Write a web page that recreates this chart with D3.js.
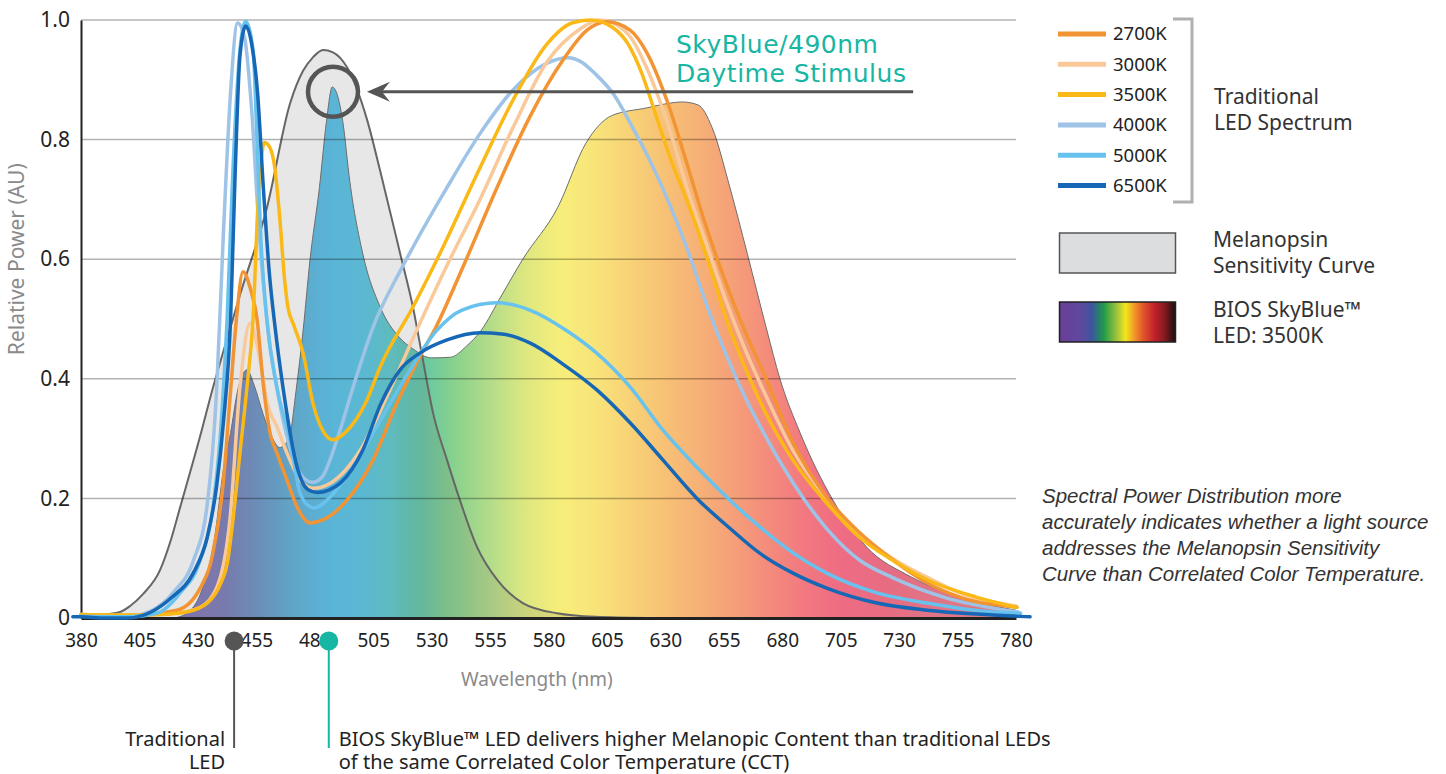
<!DOCTYPE html>
<html>
<head>
<meta charset="utf-8">
<script src="https://cdn.jsdelivr.net/npm/d3@7"></script>
<style>
html, body { margin: 0; padding: 0; background: #fff; }
svg { display: block; }
</style>
</head>
<body>
<svg id="chart" width="1446" height="774"></svg>
<script>
// ---- data ----
const xTicks = [380, 405, 430, 455, 480, 505, 530, 555, 580, 605, 630, 655, 680, 705, 730, 755, 780];
const yTicks = [0, 0.2, 0.4, 0.6, 0.8, 1.0];
const yTickLabels = ["0", "0.2", "0.4", "0.6", "0.8", "1.0"];

const seriesNames = ["2700K", "3000K", "3500K", "4000K", "5000K", "6500K"];
const seriesColors = ["#f29433", "#f9c99a", "#fbb917", "#9ec3e6", "#68c2ee", "#1667b5"];

// [wavelength nm, relative power]
const spd2700 = [[380,0.006],[400,0.004],[421,0.013],[431,0.05],[436.5,0.11],[440.7,0.22],[444,0.38],[446.5,0.5],[449.3,0.579],[452.5,0.55],[455.3,0.5],[458,0.39],[460.9,0.309],[463.8,0.276],[468.1,0.231],[472.4,0.186],[478,0.159],[483.5,0.164],[493.8,0.197],[504.9,0.264],[515.2,0.36],[524,0.43],[532.3,0.49],[543.4,0.587],[558,0.72],[572,0.838],[586.2,0.933],[596.5,0.983],[605,0.997],[614.9,0.983],[622.1,0.945],[630.7,0.865],[639.2,0.76],[647,0.66],[655,0.57],[664,0.48],[672,0.41],[684.6,0.293],[699,0.202],[713.3,0.142],[727.4,0.097],[741.9,0.059],[756,0.035],[780.4,0.018]];
const spd3000 = [[380,0.006],[400,0.004],[420,0.008],[431,0.018],[438.2,0.052],[443.7,0.164],[448,0.386],[452.3,0.493],[456.6,0.431],[459.6,0.36],[463.8,0.32],[468.1,0.276],[473.7,0.231],[479.3,0.217],[486.5,0.225],[499.4,0.28],[512,0.38],[523.7,0.482],[536.6,0.59],[550.7,0.7],[564.8,0.82],[579.4,0.93],[593.5,0.985],[602,1.0],[610,0.99],[615,0.972],[622,0.92],[630.7,0.83],[640,0.71],[648,0.62],[656,0.53],[664,0.45],[672,0.38],[684.6,0.28],[699,0.2],[713,0.14],[727,0.1],[742,0.068],[756,0.042],[780,0.02]];
const spd3500 = [[380,0.006],[400,0.005],[415,0.006],[425,0.01],[434,0.025],[440,0.06],[442.5,0.09],[445,0.164],[448,0.276],[451,0.386],[453.6,0.5],[455.7,0.69],[458.5,0.795],[461,0.785],[463,0.75],[465.1,0.666],[467,0.57],[468.5,0.52],[471,0.49],[475,0.443],[479.3,0.358],[483.5,0.313],[487.8,0.298],[493,0.31],[502.4,0.365],[508,0.42],[522,0.52],[533.6,0.61],[550.7,0.753],[564.8,0.866],[579.4,0.96],[590,0.995],[598,1.0],[607.6,0.987],[614,0.96],[620,0.91],[626,0.84],[632,0.77],[640,0.69],[648,0.6],[656,0.5],[664,0.42],[672,0.35],[684.6,0.264],[699,0.192],[713,0.135],[727,0.097],[742,0.064],[763,0.035],[780,0.018]];
const spd4000 = [[380,0.004],[400,0.003],[410,0.012],[420,0.045],[428,0.095],[434,0.19],[438,0.38],[441,0.65],[444,0.88],[447,0.995],[450,0.97],[453,0.85],[456,0.66],[460,0.48],[464,0.38],[469,0.29],[474,0.24],[479,0.227],[483,0.235],[489.5,0.298],[496.4,0.386],[505,0.487],[516.5,0.58],[522,0.62],[536.6,0.72],[550.7,0.81],[564.8,0.883],[579.4,0.928],[588.3,0.937],[594,0.93],[600,0.91],[608,0.875],[616,0.82],[624,0.76],[632,0.69],[640,0.61],[648,0.52],[656,0.44],[664,0.37],[672,0.31],[680,0.255],[690,0.195],[700,0.145],[713,0.097],[727,0.068],[749,0.035],[781,0.01]];
const spd5000 = [[380,0.003],[400,0.002],[412.5,0.008],[422.4,0.042],[431,0.097],[436.5,0.186],[439.5,0.3],[442.5,0.5],[445,0.75],[448,0.95],[450.5,0.998],[453.6,0.95],[455.3,0.8],[457,0.63],[459.5,0.5],[463.8,0.386],[469.4,0.298],[473.7,0.209],[478,0.186],[480,0.184],[486.5,0.202],[496.4,0.253],[508,0.33],[520,0.41],[532,0.48],[543,0.515],[558,0.527],[572,0.515],[588,0.48],[600,0.445],[615,0.386],[629,0.314],[643.5,0.252],[657.6,0.197],[670.5,0.152],[684.6,0.109],[699,0.075],[720.5,0.042],[742,0.025],[770,0.01],[782,0.008]];
const spd6500 = [[376.5,0.002],[380,0.002],[390,0.0],[400,0.0],[410,0.01],[419,0.035],[428,0.075],[434,0.135],[438,0.22],[441,0.33],[444,0.5],[446,0.75],[448,0.94],[450.5,0.99],[453,0.96],[455.5,0.88],[458,0.72],[460.5,0.58],[463,0.487],[466.4,0.386],[472.4,0.253],[477,0.215],[481,0.21],[486,0.214],[491,0.226],[500.6,0.281],[508,0.356],[516.5,0.415],[525,0.443],[536.6,0.465],[550.7,0.477],[560,0.475],[572,0.46],[586,0.425],[600.8,0.381],[615,0.326],[629,0.264],[643.5,0.2],[657.6,0.15],[670.5,0.108],[684.6,0.075],[699,0.05],[720.5,0.025],[742,0.013],[770,0.005],[786,0.002]];

const melanopsin = [[380,0.004],[388,0.005],[396.7,0.01],[401,0.02],[406.5,0.04],[413.8,0.08],[418,0.125],[422.4,0.185],[430.9,0.303],[436.5,0.386],[440.7,0.443],[448,0.54],[459.6,0.687],[469.4,0.86],[475,0.915],[479.3,0.938],[483.5,0.95],[487.8,0.946],[493.8,0.921],[502.4,0.833],[507.9,0.749],[516.5,0.61],[522,0.52],[526.3,0.431],[530.6,0.343],[536.6,0.264],[542.1,0.197],[549.4,0.119],[558,0.064],[569,0.025],[583.6,0.008],[600,0.002],[622,0]];

const skyBlue3500 = [[420,0],[426,0.01],[432,0.05],[437,0.13],[441,0.25],[444,0.31],[447,0.38],[449.5,0.41],[451,0.415],[454,0.39],[458,0.34],[462,0.3],[465,0.285],[469,0.3],[472,0.38],[475,0.48],[478,0.6],[482,0.72],[485,0.83],[487.5,0.888],[490,0.87],[492,0.83],[495,0.73],[500.5,0.61],[508,0.52],[516,0.47],[522,0.45],[530,0.435],[538,0.436],[545,0.455],[551,0.48],[560,0.54],[569,0.6],[584,0.687],[596,0.794],[607,0.84],[622,0.853],[632,0.861],[637,0.863],[644,0.858],[650,0.82],[657.6,0.72],[665,0.61],[673.5,0.48],[679,0.4],[687.6,0.31],[701.7,0.197],[716,0.119],[735,0.069],[756,0.035],[780,0.013]];

// colour of the SkyBlue fill along the wavelength axis
const spectrumStops = [[380,"#8a74bb"],[425,"#8577bb"],[440,"#7d7cb9"],[455,"#6c94c6"],[470,"#5fb0d9"],[485,"#57c2ec"],[500,"#59c8e8"],[512,"#5ccbd0"],[525,"#62c7a6"],[538,"#84d08e"],[555,"#b3dc8a"],[570,"#dde780"],[585,"#f7ee7a"],[600,"#f8e479"],[615,"#f8d277"],[630,"#f7c175"],[645,"#f6b077"],[660,"#f59e79"],[675,"#f48a7c"],[690,"#f27880"],[705,"#ef6c83"],[725,"#e66c82"],[750,"#df7686"],[780,"#da7d89"]];
const swatchStops = [[0,"#6b3e98"],[0.2,"#5b4a9e"],[0.28,"#3d55a0"],[0.38,"#1d9a48"],[0.5,"#a5c63b"],[0.57,"#f3e61b"],[0.65,"#f0932a"],[0.72,"#e2562a"],[0.82,"#c1202b"],[0.9,"#8b1a1f"],[1,"#1b0f0f"]];

const noteLines = ["Spectral Power Distribution more", "accurately indicates whether a light source", "addresses the Melanopsin Sensitivity", "Curve than Correlated Color Temperature."];

// ---- setup ----
const margin = {top: 20, left: 81};
const innerW = 935, innerH = 598;
const svg = d3.select("#chart");
const defs = svg.append("defs");

const x = d3.scaleLinear().domain([380, 780]).range([margin.left, margin.left + innerW]);
const y = d3.scaleLinear().domain([0, 1]).range([margin.top + innerH, margin.top]);

const line = d3.line().x(d => x(d[0])).y(d => y(d[1])).curve(d3.curveMonotoneX);
const area = d3.area().x(d => x(d[0])).y0(y(0)).y1(d => y(d[1])).curve(d3.curveMonotoneX);

// spectrum gradient in user space so it lines up with wavelength
const grad = defs.append("linearGradient").attr("id", "spectrum")
    .attr("gradientUnits", "userSpaceOnUse")
    .attr("x1", x(380)).attr("x2", x(780)).attr("y1", 0).attr("y2", 0);
grad.selectAll("stop").data(spectrumStops).join("stop")
    .attr("offset", d => (d[0] - 380) / 400)
    .attr("stop-color", d => d[1]);

const swGrad = defs.append("linearGradient").attr("id", "swatch");
swGrad.selectAll("stop").data(swatchStops).join("stop")
    .attr("offset", d => d[0]).attr("stop-color", d => d[1]);

// ---- fills ----
svg.append("path").datum(skyBlue3500).attr("d", area).attr("fill", "url(#spectrum)");
svg.append("path").datum(skyBlue3500).attr("d", line)
    .attr("fill", "none").attr("stroke", "#6e6e6e").attr("stroke-width", 1);

svg.append("path").datum(melanopsin).attr("d", area).attr("fill", "rgba(105,105,105,0.16)");
svg.append("path").datum(melanopsin).attr("d", line)
    .attr("fill", "none").attr("stroke", "#666").attr("stroke-width", 2);

// ---- grid ----
svg.append("g").selectAll("line").data(yTicks.filter(d => d > 0)).join("line")
    .attr("x1", x(380)).attr("x2", x(780))
    .attr("y1", d => y(d)).attr("y2", d => y(d))
    .attr("stroke", "#000").attr("stroke-opacity", 0.3).attr("stroke-width", 1.5);

// ---- axes ----
const xAxis = svg.append("g").attr("transform", `translate(0,${y(0)})`)
    .call(d3.axisBottom(x).tickValues(xTicks).tickFormat(d3.format("d")).tickSize(0).tickPadding(16).tickSizeOuter(0));
xAxis.select(".domain").attr("stroke", "#222").attr("stroke-width", 3);
xAxis.selectAll("text").attr("font-family", "Noto Sans").attr("font-size", 19).attr("fill", "#222");

const yAxis = svg.append("g").attr("transform", `translate(${x(380)},0)`)
    .call(d3.axisLeft(y).tickValues(yTicks).tickFormat((d, i) => yTickLabels[i]).tickSize(0).tickPadding(11).tickSizeOuter(0));
yAxis.select(".domain").attr("stroke", "#222").attr("stroke-width", 2);
yAxis.selectAll("text").attr("font-family", "Noto Sans").attr("font-size", 21).attr("fill", "#222");

svg.append("text").attr("transform", `translate(24,${y(0.6)}) rotate(-90)`)
    .attr("text-anchor", "middle").attr("font-family", "Noto Sans").attr("font-size", 21)
    .attr("fill", "#8a8a8a").text("Relative Power (AU)");
svg.append("text").attr("x", x(575)).attr("y", 686)
    .attr("text-anchor", "middle").attr("font-family", "Noto Sans").attr("font-size", 19)
    .attr("fill", "#8a8a8a").text("Wavelength (nm)");

// ---- LED spectra ----
const seriesData = {"2700K": spd2700, "3000K": spd3000, "3500K": spd3500, "4000K": spd4000, "5000K": spd5000, "6500K": spd6500};
const drawOrder = ["4000K", "3000K", "2700K", "3500K", "5000K", "6500K"];
svg.append("g").selectAll("path").data(drawOrder).join("path")
    .attr("d", k => line(seriesData[k]))
    .attr("fill", "none")
    .attr("stroke", k => seriesColors[seriesNames.indexOf(k)])
    .attr("stroke-width", 3.5)
    .attr("stroke-linejoin", "round").attr("stroke-linecap", "round");

// ---- 490nm callout ----
const peak = [487.8, 0.88];
const cx0 = x(peak[0]), cy0 = y(peak[1]);
svg.append("circle").attr("cx", cx0).attr("cy", cy0).attr("r", 25)
    .attr("fill", "none").attr("stroke", "#555").attr("stroke-width", 4.5);
const tip = cx0 + 34;
svg.append("line")
    .attr("x1", x(736)).attr("x2", tip + 12)
    .attr("y1", cy0).attr("y2", cy0)
    .attr("stroke", "#555").attr("stroke-width", 3);
svg.append("path")
    .attr("d", `M${tip},${cy0} L${tip + 23},${cy0 - 10} L${tip + 15},${cy0} L${tip + 23},${cy0 + 10} Z`)
    .attr("fill", "#555");
const callout = svg.append("text").attr("font-family", "DejaVu Sans").attr("font-size", 25)
    .attr("fill", "#17b6a3").attr("letter-spacing", 0.5);
callout.append("tspan").attr("x", 676).attr("y", 53).text("SkyBlue/490nm");
callout.append("tspan").attr("x", 676).attr("y", 82).text("Daytime Stimulus");

// ---- legend ----
const leg = svg.append("g").attr("transform", "translate(1058,0)");
const legItems = leg.selectAll("g").data(seriesNames).join("g")
    .attr("transform", (d, i) => `translate(0,${34 + i * 30.3})`);
legItems.append("line").attr("x1", 0).attr("x2", 48).attr("y1", 0).attr("y2", 0)
    .attr("stroke", (d, i) => seriesColors[i]).attr("stroke-width", 5);
legItems.append("text").attr("x", 55).attr("y", 0).attr("dy", "0.35em")
    .attr("font-family", "Noto Sans").attr("font-size", 18.5).attr("fill", "#222").text(d => d);

leg.append("path").attr("d", "M115,19 H134 V202 H115")
    .attr("fill", "none").attr("stroke", "#b0b0b0").attr("stroke-width", 3);

function legendText(lines, x0, y0) {
    lines.forEach((s, i) => svg.append("text").attr("x", x0).attr("y", y0 + i * 26)
        .attr("font-family", "Noto Sans").attr("font-size", 21).attr("fill", "#333").text(s));
}
legendText(["Traditional", "LED Spectrum"], 1214, 104);

leg.append("rect").attr("x", 1.5).attr("y", 233).attr("width", 116).attr("height", 40)
    .attr("fill", "#dcdddf").attr("stroke", "#555").attr("stroke-width", 1.5);
legendText(["Melanopsin", "Sensitivity Curve"], 1213, 247);

leg.append("rect").attr("x", 1.5).attr("y", 302).attr("width", 116).attr("height", 40)
    .attr("fill", "url(#swatch)").attr("stroke", "#222").attr("stroke-width", 1.5);
legendText(["BIOS SkyBlue\u2122", "LED: 3500K"], 1213, 317);

// ---- note ----
noteLines.forEach((s, i) => svg.append("text").attr("x", 1042).attr("y", 503 + i * 26)
    .attr("font-family", "Liberation Sans").attr("font-style", "italic")
    .attr("font-size", 20.5).attr("fill", "#333").text(s));

// ---- bottom markers ----
const markers = [
    {nm: 445.5, color: "#555", lines: ["Traditional", "LED"], anchor: "end", dx: -9},
    {nm: 486, color: "#17b6a3", lines: ["BIOS SkyBlue\u2122 LED delivers higher Melanopic Content than traditional LEDs", "of the same Correlated Color Temperature (CCT)"], anchor: "start", dx: 10}
];
markers.forEach(m => {
    const cx = x(m.nm);
    svg.append("line").attr("x1", cx).attr("x2", cx).attr("y1", 641).attr("y2", 748)
        .attr("stroke", m.color).attr("stroke-width", 2);
    svg.append("circle").attr("cx", cx).attr("cy", 641).attr("r", 9.5).attr("fill", m.color);
    m.lines.forEach((s, i) => svg.append("text").attr("x", cx + m.dx).attr("y", 746 + i * 23)
        .attr("font-family", "Noto Sans").attr("font-size", 20)
        .attr("fill", "#222").attr("text-anchor", m.anchor).text(s));
});
</script>
</body>
</html>
